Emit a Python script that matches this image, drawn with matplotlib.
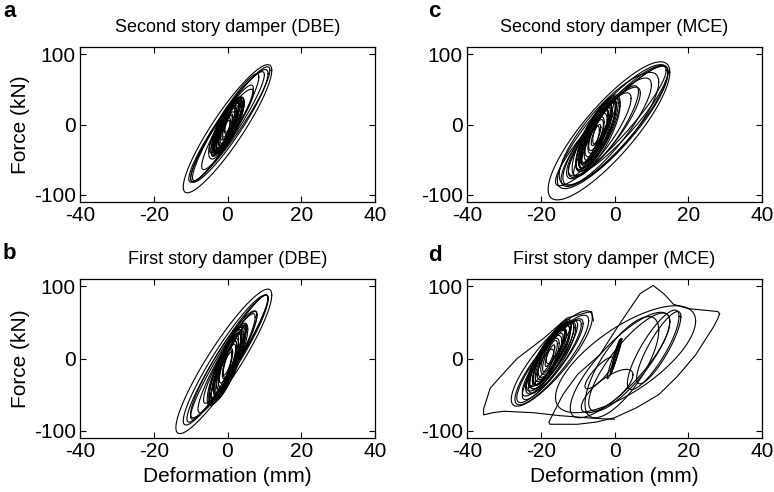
import numpy as np
import matplotlib
matplotlib.use("Agg")
import matplotlib.pyplot as plt

plt.rcParams["font.family"] = ["Liberation Sans", "DejaVu Sans"]
plt.rcParams["axes.unicode_minus"] = False

panel_letters = ["a", "c", "b", "d"]
panel_titles = [
    "Second story damper (DBE)",
    "Second story damper (MCE)",
    "First story damper (DBE)",
    "First story damper (MCE)",
]
x_ticks = [-40, -20, 0, 20, 40]
y_ticks = [-100, 0, 100]

# hysteresis loops:
# (deformation centre, deformation half-range, force centre, force half-range, force half-opening)
loops_a = [
    (0.0, 12.0, -6, 91, 38),
    (0.5, 10.5, -2, 80, 30),
    (0.0, 10.0, -3, 78, 26),
    (0.5, 11.0, 0, 82, 28),
    (-0.5, 9.0, -4, 76, 26),
    (1.0, 6.0, 5, 45, 20),
    (0.0, 7.0, -4, 60, 24),
    (0.0, 4.5, -3, 42, 24),
    (0.0, 4.0, -2, 40, 22),
    (0.2, 3.8, -3, 38, 23),
    (-0.2, 3.5, -4, 36, 20),
    (0.0, 3.0, -2, 34, 19),
    (0.3, 4.2, -1, 40, 25),
    (-0.3, 4.8, -5, 44, 26),
    (0.0, 2.5, -3, 28, 16),
    (0.0, 2.0, -2, 25, 14),
    (0.0, 4.0, 0, 38, 26),
    (-0.2, 3.2, -6, 33, 21),
    (-1.0, 3.5, -9, 34, 20),
    (1.0, 3.5, 4, 34, 20),
    (-0.7, 3.0, -5, 32, 22),
    (0.7, 3.0, 1, 32, 22),
    (-0.5, 2.5, -10, 28, 17),
    (0.5, 2.5, 6, 28, 17),
    (-1.2, 2.0, -12, 22, 14),
    (1.2, 2.0, 8, 22, 14),
    (0.0, 1.5, -3, 18, 12),
    (-0.3, 1.0, -6, 12, 8),
    (0.3, 1.0, 1, 12, 8),
    (-0.4, 3.9, -6, 39, 14),
    (0.4, 3.3, 1, 34, 12),
]

loops_b = [
    (-1.0, 13.0, -4, 100, 40),
    (-0.5, 11.5, -2, 90, 32),
    (0.0, 11.0, 0, 88, 28),
    (0.5, 10.5, 2, 86, 26),
    (-1.0, 9.0, -8, 74, 28),
    (0.0, 8.0, -5, 70, 26),
    (0.5, 7.0, 0, 62, 24),
    (0.0, 5.5, -8, 57, 30),
    (0.0, 5.0, -6, 54, 28),
    (0.2, 4.6, -8, 52, 29),
    (-0.3, 4.2, -10, 50, 25),
    (0.0, 3.8, -6, 46, 26),
    (0.2, 3.4, -7, 42, 23),
    (0.0, 3.0, -5, 38, 21),
    (0.0, 2.5, -8, 32, 18),
    (-0.2, 4.8, -12, 50, 28),
    (0.3, 4.0, -4, 47, 27),
    (-1.0, 4.0, -16, 44, 26),
    (1.0, 4.0, 2, 44, 26),
    (-0.7, 3.2, -12, 38, 24),
    (0.7, 3.2, -2, 38, 24),
    (-1.2, 2.4, -18, 30, 18),
    (1.2, 2.4, 4, 30, 18),
    (-0.4, 1.8, -10, 24, 15),
    (0.4, 1.8, -4, 24, 15),
    (0.0, 1.2, -7, 16, 10),
    (0.0, 5.2, -10, 55, 16),
    (0.3, 4.9, -4, 51, 14),
]

loops_c = [
    (-1.5, 16.5, -9, 98, 52),
    (-0.5, 15.0, -3, 88, 44),
    (0.0, 14.5, -2, 86, 40),
    (-1.5, 13.5, -6, 80, 45),
    (-2.0, 12.0, -10, 76, 38),
    (-1.0, 15.0, -2, 85, 32),
    (1.0, 13.5, 5, 78, 34),
    (-3.0, 10.0, -12, 65, 32),
    (-4.0, 8.5, -15, 60, 30),
    (-1.5, 8.0, -5, 60, 30),
    (-5.0, 5.5, -15, 52, 32),
    (-4.8, 5.0, -14, 48, 29),
    (-5.2, 4.6, -16, 46, 30),
    (-5.0, 4.2, -13, 44, 26),
    (-4.5, 6.0, -12, 54, 32),
    (-5.5, 3.8, -17, 40, 24),
    (-5.0, 3.2, -15, 36, 22),
    (-5.0, 6.5, -18, 56, 34),
    (-4.0, 5.0, -10, 50, 30),
    (-5.5, 4.0, -20, 42, 26),
    (-6.2, 4.2, -24, 40, 25),
    (-3.8, 4.2, -6, 40, 25),
    (-6.0, 3.2, -22, 33, 21),
    (-4.0, 3.2, -8, 33, 21),
    (-6.5, 2.4, -28, 26, 16),
    (-3.5, 2.4, -2, 26, 16),
    (-5.0, 2.0, -15, 22, 15),
    (-5.0, 1.3, -15, 15, 10),
    (-5.3, 5.8, -19, 53, 18),
    (-4.6, 4.4, -11, 45, 15),
]

loops_d = [
    (-17.0, 11.0, 0, 66, 34),
    (-17.0, 10.0, -2, 62, 30),
    (-17.5, 9.0, -3, 58, 27),
    (-17.0, 8.0, -2, 55, 25),
    (-17.5, 7.5, 0, 52, 24),
    (-17.5, 6.5, 3, 48, 26),
    (-17.0, 6.0, 4, 46, 25),
    (-17.5, 5.5, 2, 44, 26),
    (-17.2, 5.0, 5, 42, 23),
    (-17.8, 4.5, 3, 40, 22),
    (-17.5, 4.0, 4, 36, 20),
    (-17.3, 6.8, 1, 50, 28),
    (-17.6, 5.8, 6, 45, 24),
    (-17.4, 3.5, 3, 32, 18),
    (-18.8, 4.5, -8, 40, 24),
    (-16.2, 4.5, 14, 40, 24),
    (-18.5, 3.5, -4, 32, 20),
    (-16.5, 3.5, 10, 32, 20),
    (-19.0, 2.5, -12, 25, 15),
    (-16.0, 2.5, 18, 25, 15),
    (-17.5, 2.0, 3, 22, 14),
    (-17.5, 1.3, 4, 15, 9),
    (-17.7, 6.2, 6, 47, 15),
    (1.5, 13.5, -9, 73, 42),
    (3.0, 19.0, -1, 74, 52),
    (4.0, 11.0, -5, 68, 38),
    (10.5, 7.0, 12, 55, 30),
    (12.0, 6.0, 15, 50, 26),
    (2.0, 10.0, -12, 70, 48),
    (-4.0, 4.0, -20, 22, 12),
    (-2.0, 7.0, -45, 30, 20),
    (0.3, 1.5, 2, 25, 6),
    (0.5, 1.2, 5, 22, 5),
    (0.0, 2.0, 0, 28, 8),
    (0.4, 1.0, 8, 18, 4),
]

# outer excursions of the first story damper under MCE
path_d_left_x = [-5.7, -6.2, -8, -12.9, -19.2, -26.4, -30, -33.7, -35.5, -35.5,
                 -33, -30, -22, -15, -5, 0]
path_d_left_f = [52, 65, 63, 56, 28, 0, -20, -41, -70, -78,
                 -75, -73, -75, -79, -83, -84]
path_d_right_x = [28.5, 28, 27, 22, 17, 12, 6, 0, -5, -10, -17.5, -17.8, -14, -10,
                  -4, 0, 3, 7, 10.5, 13.5, 16, 20, 24, 28, 28.5]
path_d_right_f = [62, 55, 45, 5, -25, -50, -68, -82, -88, -91, -91, -88, -50, -22,
                  5, 37, 60, 90, 101, 89, 75, 69, 67, 65, 62]

panel_loops = [loops_a, loops_c, loops_b, loops_d]


def loop_points(xc, xa, fc, fb, fw, n=160):
    t = np.linspace(0, 2 * np.pi, n)
    x = xc + xa * np.cos(t)
    f = fc + np.sqrt(fb ** 2 - fw ** 2) * np.cos(t) + fw * np.sin(t)
    return x, f


fig = plt.figure(figsize=(7.74, 4.92), dpi=100)
fig.patch.set_facecolor("white")

W, H = 774, 492
boxes = [(80, 47, 295, 155), (467, 47, 295, 155), (80, 279, 295, 159), (467, 279, 295, 159)]
letter_pos = [(3, 17), (428, 17), (3, 259), (428, 261)]

for i, (left, top, w, h) in enumerate(boxes):
    ax = fig.add_axes([left / W, 1 - (top + h) / H, w / W, h / H])
    for loop in panel_loops[i]:
        x, f = loop_points(*loop)
        ax.plot(x, f, color="black", linewidth=0.8)
    if i == 3:
        ax.plot(path_d_left_x, path_d_left_f, color="black", linewidth=0.8)
        ax.plot(path_d_right_x, path_d_right_f, color="black", linewidth=0.8)
    ax.set_xlim(-40, 40)
    ax.set_ylim(-110, 110)
    ax.set_xticks(x_ticks)
    ax.set_yticks(y_ticks)
    ax.tick_params(direction="in", top=True, right=True, length=4, width=0.8,
                   labelsize=15, pad=3)
    for spine in ax.spines.values():
        spine.set_linewidth(0.9)
    ax.set_title(panel_titles[i], fontsize=13, pad=11)
    if i in (0, 2):
        ax.set_ylabel("Force (kN)", fontsize=15, labelpad=3)
    if i in (2, 3):
        ax.set_xlabel("Deformation (mm)", fontsize=15, labelpad=4)
    lx, ly = letter_pos[i]
    fig.text(lx / W, 1 - ly / H, panel_letters[i], fontsize=16, fontweight="bold",
             ha="left", va="baseline")

fig.savefig("out.png", dpi=100)
